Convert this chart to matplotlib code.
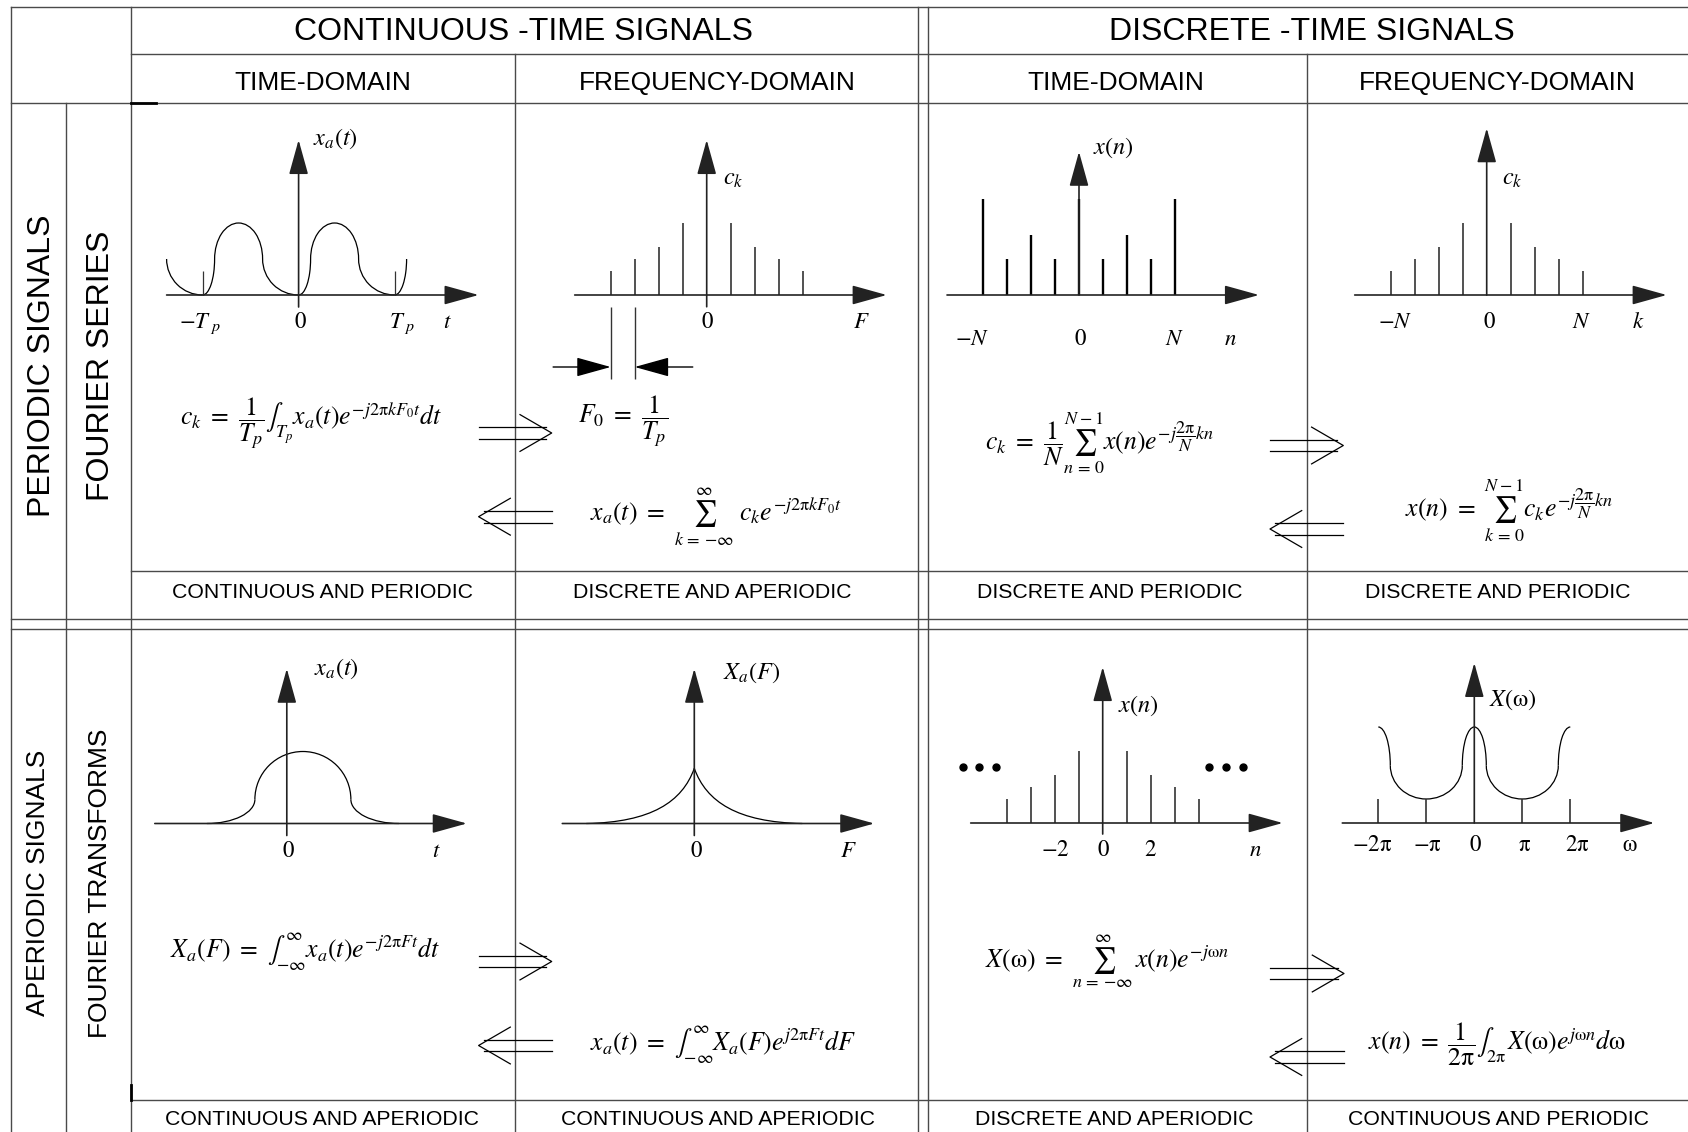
import numpy as np
import matplotlib.pyplot as plt
from matplotlib.patches import Arc, PathPatch
from matplotlib.path import Path

plt.rcParams['mathtext.fontset'] = 'stix'
plt.rcParams['font.family'] = ['Liberation Sans', 'DejaVu Sans']

W, H = 1688, 1132
U = 24.0   # pixels per unit in the small plots

# ---------------- data (units of the small plots) ----------------
# continuous periodic signal x_a(t): one period = rise + dome + decay
tp_a = 4.0
peak_a = 3.0
rise_a, dome_a, decay_a = 0.5, 2.0, 1.5
# fourier series coefficients c_k (k = 0 sits under the axis)
k_vals = [-4, -3, -2, -1, 1, 2, 3, 4]
ck_vals = [1, 1.5, 2, 3, 3, 2, 1.5, 1]
# periodic sequence x(n), N = 4
n_per = [-4, -3, -2, -1, 0, 1, 2, 3, 4]
xn_per = [4, 1.5, 2.5, 1.5, 4, 1.5, 2.5, 1.5, 4]
# aperiodic pulse x_a(t)
pulse_c, pulse_half, pulse_foot, pulse_mid, pulse_peak = 0.67, 2.0, 2.0, 1.0, 3.0
# spectrum X_a(F), right half as bezier control points (mirrored for left)
xf_ctrl = [(0, 2.3), (0.5, 0.9), (1.8, 0.05), (4.5, 0)]
# aperiodic sequence x(n)
n_ap = [-4, -3, -2, -1, 1, 2, 3, 4]
xn_ap = [1, 1.5, 2, 3, 3, 2, 1.5, 1]
dots_x = [-5.83, -5.14, -4.45, 4.44, 5.14, 5.83]
dots_y = 2.33
# X(w): period 2*pi = 4 units
xw_period = 4.0
xw_peak, xw_mid, xw_min, xw_dome = 4.0, 2.4, 1.0, 0.5
w_ticks = [-4, -2, 2, 4]

# ---------------- figure ----------------
fig = plt.figure(figsize=(W / 100, H / 100), dpi=100)
bg = fig.add_axes([0, 0, 1, 1])
bg.set_xlim(0, W)
bg.set_ylim(H, 0)
bg.axis('off')

GRID = dict(color='#4a4a4a', lw=1.0)
hl = [(6.7, 11, W), (54, 131, W), (103, 11, W), (571, 131, W),
      (619, 11, W), (629, 11, W), (1100, 131, W)]
vl = [(11, 6.7, H), (65.7, 103, H), (131, 6.7, H), (515, 54, H),
      (918, 6.7, H), (928, 6.7, H), (1307, 54, H)]
for y, a, b in hl:
    bg.plot([a, b], [y, y], **GRID)
for x, a, b in vl:
    bg.plot([x, x], [a, b], **GRID)
bg.plot([131, 156], [103, 103], color='black', lw=2)
bg.plot([131, 131], [1085, 1100], color='black', lw=2)

# headers
bg.text(524, 40, 'CONTINUOUS -TIME SIGNALS', fontsize=23, ha='center', va='baseline')
bg.text(1312, 40, 'DISCRETE -TIME SIGNALS', fontsize=23, ha='center', va='baseline')
for x, s in [(323, 'TIME-DOMAIN'), (717, 'FREQUENCY-DOMAIN'),
             (1116, 'TIME-DOMAIN'), (1497, 'FREQUENCY-DOMAIN')]:
    bg.text(x, 90, s, fontsize=19, ha='center', va='baseline')
row1 = [(322, 'CONTINUOUS AND PERIODIC'), (712, 'DISCRETE AND APERIODIC'),
        (1110, 'DISCRETE AND PERIODIC'), (1498, 'DISCRETE AND PERIODIC')]
row2 = [(322, 'CONTINUOUS AND APERIODIC'), (718, 'CONTINUOUS AND APERIODIC'),
        (1114, 'DISCRETE AND APERIODIC'), (1498, 'CONTINUOUS AND PERIODIC')]
for x, s in row1:
    bg.text(x, 598, s, fontsize=15.3, ha='center', va='baseline')
for x, s in row2:
    bg.text(x, 1125, s, fontsize=15.3, ha='center', va='baseline')

side = [(50, 366, 'PERIODIC SIGNALS', 23), (109, 366, 'FOURIER SERIES', 23),
        (45, 883, 'APERIODIC SIGNALS', 19), (107, 883, 'FOURIER TRANSFORMS', 19)]
for x, y, s, fs in side:
    bg.text(x, y, s, fontsize=fs, rotation=90, rotation_mode='anchor',
            ha='center', va='baseline')


# double arrows between the domains
def dbl_arrow(x0, x1, yc, right=True):
    gap, adx, ady = 5.8, 31.7, 18.4
    kw = dict(color='black', lw=0.9)
    if right:
        for d in (-gap, gap):
            bg.plot([x0, x1 - 6], [yc + d, yc + d], **kw)
        bg.plot([x1 - adx, x1, x1 - adx], [yc - ady, yc, yc + ady], **kw)
    else:
        for d in (-gap, gap):
            bg.plot([x0 + 5, x1], [yc + d, yc + d], **kw)
        bg.plot([x0 + adx, x0, x0 + adx], [yc - ady, yc, yc + ady], **kw)


dbl_arrow(478.6, 551.7, 433, True)
dbl_arrow(478.6, 551.7, 516.7, False)
dbl_arrow(1270, 1343.3, 445.5, True)
dbl_arrow(1270, 1343.3, 529, False)
dbl_arrow(478.6, 551.7, 961.5, True)
dbl_arrow(478.6, 551.7, 1045.5, False)
dbl_arrow(1270, 1344, 973.5, True)
dbl_arrow(1270, 1344, 1057, False)

# formulas
FS = 18.5
formulas = [
    (180, 425, r'$c_k\ =\ \dfrac{1}{T_p}\int_{T_p}x_a(t)e^{-j2\mathrm{\pi} kF_0t}dt$'),
    (578, 423, r'$F_0\ =\ \dfrac{1}{T_p}$'),
    (590, 521, r'$x_a(t)\ =\ \sum_{k\,=\,{-\infty}}^{\infty}\ c_ke^{-j2\mathrm{\pi} kF_0t}$'),
    (985, 450, r'$c_k\ =\ \dfrac{1}{N}\sum_{n\,=\,0}^{N-1}x(n)e^{-j\dfrac{2\mathrm{\pi}}{N}kn}$'),
    (1405, 517, r'$x(n)\ =\ \sum_{k\,=\,0}^{N-1}c_ke^{-j\dfrac{2\mathrm{\pi}}{N}kn}$'),
    (170, 958, r'$X_a(F)\ =\ \int_{-\infty}^{\infty}x_a(t)e^{-j2\mathrm{\pi} Ft}dt$'),
    (590, 1051, r'$x_a(t)\ =\ \int_{-\infty}^{\infty}X_a(F)e^{j2\mathrm{\pi} Ft}dF$'),
    (985, 968, r'$X(\mathrm{\omega})\ =\ \sum_{n\,=\,{-\infty}}^{\infty}\,x(n)e^{-j\mathrm{\omega} n}$'),
    (1368, 1051, r'$x(n)\ =\ \dfrac{1}{2\mathrm{\pi}}\int_{2\mathrm{\pi}}\,X(\mathrm{\omega})e^{j\mathrm{\omega} n}d\mathrm{\omega}$'),
]
for x, y, s in formulas:
    bg.text(x, y, s, fontsize=FS, ha='left', va='baseline')


# ---------------- small plots ----------------
def panel(ox, oy):
    x0, x1, y0, y1 = -7, 9, -4, 8
    ax = fig.add_axes([(ox + x0 * U) / W, (H - oy + y0 * U) / H,
                       (x1 - x0) * U / W, (y1 - y0) * U / H])
    ax.set_xlim(x0, x1)
    ax.set_ylim(y0, y1)
    ax.axis('off')
    ax.patch.set_visible(False)
    return ax


AP = dict(arrowstyle='-|>,head_length=1.55,head_width=0.43', mutation_scale=14,
          color='#222222', lw=1.2, shrinkA=0, shrinkB=0)
CURVE = dict(color='black', lw=0.9, fill=False)
STEM = dict(color='#333333', lw=1.2)
LAB = dict(fontsize=16.5, ha='center', va='baseline')
YLAB = dict(fontsize=17.5, ha='left', va='baseline')


def axes_arrows(ax, y_low, y_top):
    ax.annotate('', xy=(7.5, 0), xytext=(-5.5, 0), arrowprops=AP)
    ax.annotate('', xy=(0, y_top), xytext=(0, y_low), arrowprops=AP)


# A: continuous periodic time signal
axA = panel(298.6, 295)
axes_arrows(axA, -0.5, 6.46)
mid_a = peak_a / 2
for p in [-tp_a, 0]:
    axA.add_patch(Arc((p, mid_a), 2 * rise_a, 2 * mid_a, theta1=270, theta2=360, **CURVE))
    axA.add_patch(Arc((p + rise_a + dome_a / 2, mid_a), dome_a, 2 * (peak_a - mid_a),
                      theta1=0, theta2=180, **CURVE))
    axA.add_patch(Arc((p + tp_a, mid_a), 2 * decay_a, 2 * mid_a, theta1=180, theta2=270, **CURVE))
axA.add_patch(Arc((-tp_a, mid_a), 2 * decay_a, 2 * mid_a, theta1=180, theta2=270, **CURVE))
axA.add_patch(Arc((tp_a, mid_a), 2 * rise_a, 2 * mid_a, theta1=270, theta2=360, **CURVE))
axA.vlines([-tp_a, tp_a], 0, 1, color='#333333', lw=0.9)
axA.text(-4.1, -1.38, r'$-T_{\ p}$', **LAB)
axA.text(0.06, -1.38, r'$0$', **LAB)
axA.text(4.3, -1.38, r'$T_{\ p}$', **LAB)
axA.text(6.2, -1.38, r'$t$', **LAB)
axA.text(0.6, 6.25, r'$x_a(t)$', **YLAB)

# B: fourier series coefficients
axB = panel(706.7, 295)
axes_arrows(axB, -0.49, 6.46)
axB.vlines(k_vals, 0, ck_vals, **STEM)
axB.vlines([-4, -3], -3.5, -0.49, color='#333333', lw=1.0)
APd = dict(AP, color='black', lw=1.0)
axB.annotate('', xy=(-4, -3), xytext=(-6.4, -3), arrowprops=APd)
axB.annotate('', xy=(-3, -3), xytext=(-0.58, -3), arrowprops=APd)
axB.text(0.05, -1.39, r'$0$', **LAB)
axB.text(6.46, -1.39, r'$F$', **LAB)
axB.text(0.67, 4.58, r'$c_k$', **YLAB)

# C: periodic sequence
axC = panel(1079, 295)
axes_arrows(axC, 0, 5.97)
axC.vlines(n_per, 0, xn_per, color='black', lw=1.7)
axC.text(-4.47, -2.08, r'$-N$', **LAB)
axC.text(0.07, -2.08, r'$0$', **LAB)
axC.text(4.0, -2.08, r'$N$', **LAB)
axC.text(6.32, -2.08, r'$n$', **LAB)
axC.text(0.6, 5.9, r'$x(n)$', **YLAB)

# D: DFS coefficients
axD = panel(1486.7, 295)
axes_arrows(axD, 0, 6.95)
axD.vlines(k_vals, 0, ck_vals, **STEM)
axD.text(-3.8, -1.39, r'$-N$', **LAB)
axD.text(0.1, -1.39, r'$0$', **LAB)
axD.text(3.96, -1.39, r'$N$', **LAB)
axD.text(6.32, -1.39, r'$k$', **LAB)
axD.text(0.65, 4.58, r'$c_k$', **YLAB)

# E: aperiodic pulse
axE = panel(286.8, 823.5)
axes_arrows(axE, -0.5, 6.45)
axE.add_patch(Arc((pulse_c - pulse_half - pulse_foot, pulse_mid), 2 * pulse_foot, 2 * pulse_mid,
                  theta1=270, theta2=360, **CURVE))
axE.add_patch(Arc((pulse_c, pulse_mid), 2 * pulse_half, 2 * (pulse_peak - pulse_mid),
                  theta1=0, theta2=180, **CURVE))
axE.add_patch(Arc((pulse_c + pulse_half + pulse_foot, pulse_mid), 2 * pulse_foot, 2 * pulse_mid,
                  theta1=180, theta2=270, **CURVE))
axE.text(0.08, -1.41, r'$0$', **LAB)
axE.text(6.23, -1.41, r'$t$', **LAB)
axE.text(1.15, 6.19, r'$x_a(t)$', **YLAB)

# F: continuous spectrum
axF = panel(694.3, 823.5)
axes_arrows(axF, -0.5, 6.45)
codes = [Path.MOVETO, Path.CURVE4, Path.CURVE4, Path.CURVE4]
for sgn in (1, -1):
    verts = [(sgn * x, y) for x, y in xf_ctrl]
    axF.add_patch(PathPatch(Path(verts, codes), **CURVE))
axF.text(0.1, -1.41, r'$0$', **LAB)
axF.text(6.4, -1.41, r'$F$', **LAB)
axF.text(1.18, 6.04, r'$X_a(F)$', **YLAB)

# G: aperiodic sequence
axG = panel(1102.7, 823)
axes_arrows(axG, -0.46, 6.5)
axG.vlines(n_ap, 0, xn_ap, **STEM)
axG.plot(dots_x, [dots_y] * len(dots_x), 'o', color='black', ms=5)
axG.text(-1.99, -1.38, r'$-2$', **LAB)
axG.text(0.05, -1.38, r'$0$', **LAB)
axG.text(2.01, -1.38, r'$2$', **LAB)
axG.text(6.35, -1.38, r'$n$', **LAB)
axG.text(0.65, 4.62, r'$x(n)$', **YLAB)

# H: periodic spectrum X(w)
axH = panel(1474.3, 823)
axes_arrows(axH, 0, 6.67)
axH.vlines(w_ticks, 0, xw_min, **STEM)
dome_h = 2 * (xw_peak - xw_mid)
valley_w = xw_period - 2 * xw_dome
axH.add_patch(Arc((0, xw_mid), 2 * xw_dome, dome_h, theta1=0, theta2=180, **CURVE))
axH.add_patch(Arc((-xw_period, xw_mid), 2 * xw_dome, dome_h, theta1=0, theta2=90, **CURVE))
axH.add_patch(Arc((xw_period, xw_mid), 2 * xw_dome, dome_h, theta1=90, theta2=180, **CURVE))
for c in (-xw_period / 2, xw_period / 2):
    axH.add_patch(Arc((c, xw_mid), valley_w, 2 * (xw_mid - xw_min),
                      theta1=180, theta2=360, **CURVE))
axH.text(-4.26, -1.17, r'$-2\mathrm{\pi}$', **LAB)
axH.text(-1.95, -1.17, r'$-\mathrm{\pi}$', **LAB)
axH.text(0.06, -1.17, r'$0$', **LAB)
axH.text(2.08, -1.17, r'$\mathrm{\pi}$', **LAB)
axH.text(4.3, -1.17, r'$2\mathrm{\pi}$', **LAB)
axH.text(6.49, -1.17, r'$\mathrm{\omega}$', **LAB)
axH.text(0.625, 4.88, r'$X(\mathrm{\omega})$', **YLAB)

fig.savefig('out.png', dpi=100)
